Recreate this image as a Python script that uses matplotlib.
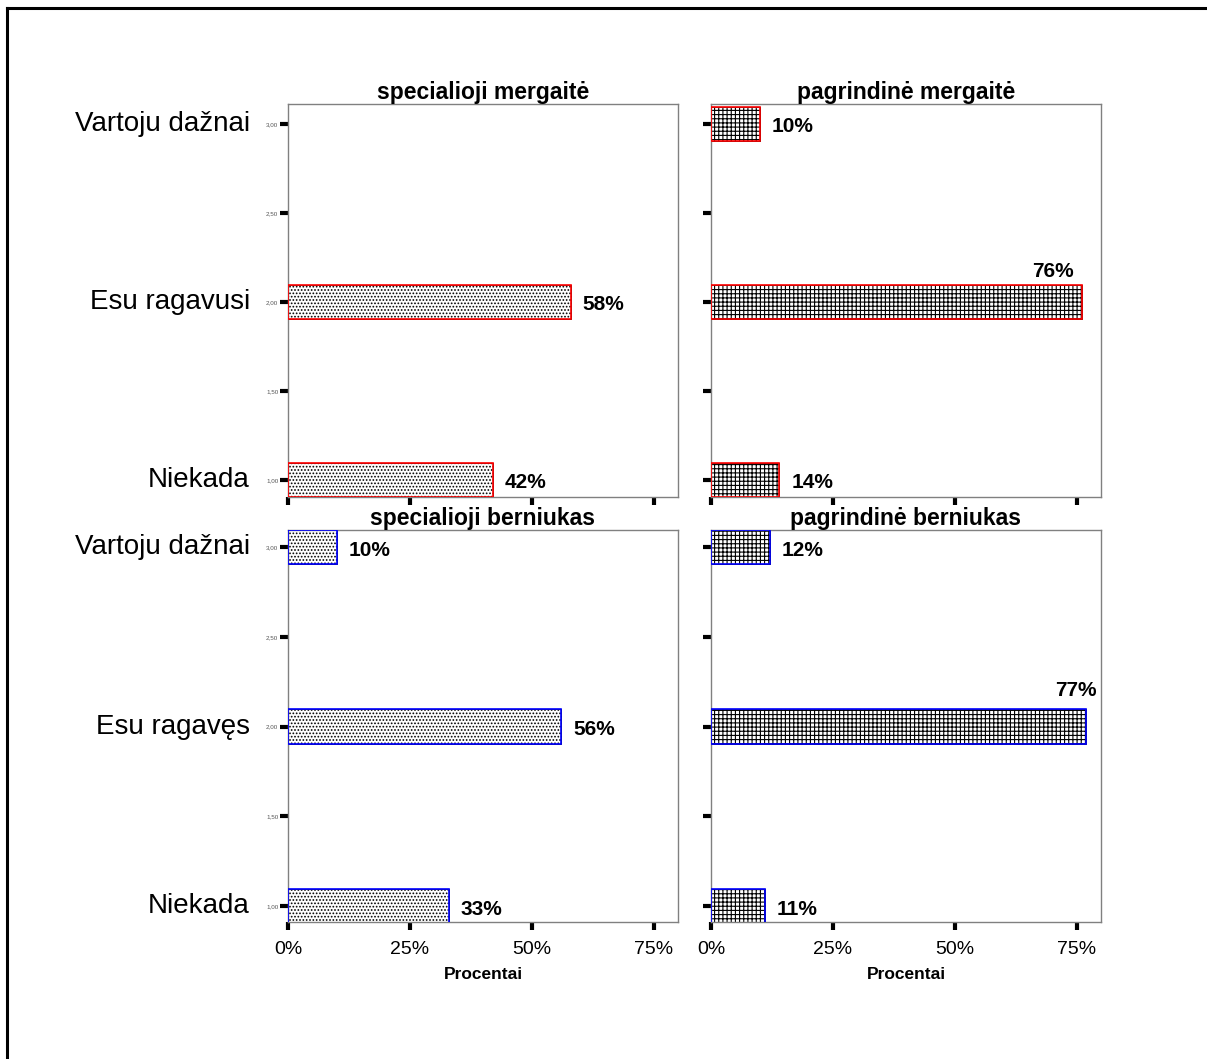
import matplotlib
matplotlib.use("Agg")
import matplotlib.pyplot as plt
from matplotlib.lines import Line2D

plt.rcParams['font.family'] = ['Liberation Sans', 'DejaVu Sans']
plt.rcParams['hatch.linewidth'] = 0.8

# ---- data ----
levels = [1.0, 2.0, 3.0]
girl_labels = ["Niekada", "Esu ragavusi", "Vartoju dažnai"]
boy_labels = ["Niekada", "Esu ragavęs", "Vartoju dažnai"]
spec_girl = [42, 58, 0]
pagr_girl = [14, 76, 10]
spec_boy = [33, 56, 10]
pagr_boy = [11, 77, 12]
titles = ["specialioji mergaitė", "pagrindinė mergaitė",
          "specialioji berniukas", "pagrindinė berniukas"]
ytick_vals = [1.0, 1.5, 2.0, 2.5, 3.0]
ytick_text = ["1,00", "1,50", "2,00", "2,50", "3,00"]
xtick_vals = [0, 25, 50, 75]
xtick_text = ["0%", "25%", "50%", "75%"]
xlabel = "Procentai"

W, H = 1207, 1059
fig = plt.figure(figsize=(W / 100, H / 100), dpi=100)

def frac(x0, y0, x1, y1):
    return [x0 / W, 1 - y1 / H, (x1 - x0) / W, (y1 - y0) / H]

panels = [
    dict(rect=frac(288, 104, 678, 497), vals=spec_girl, hatch='.....', edge='#ff0000',
         ylim=(0.904, 3.112), left=True, bottom=False, cats=girl_labels, title=titles[0],
         big=(-8, 30)),
    dict(rect=frac(711, 104, 1101, 497), vals=pagr_girl, hatch='++++', edge='#ff0000',
         ylim=(0.904, 3.112), left=False, bottom=False, cats=None, title=titles[1],
         big=(-8, 30)),
    dict(rect=frac(288, 530, 678, 922), vals=spec_boy, hatch='.....', edge='#0000ff',
         ylim=(0.911, 3.095), left=True, bottom=True, cats=boy_labels, title=titles[2],
         big=(10, 36)),
    dict(rect=frac(711, 530, 1101, 922), vals=pagr_boy, hatch='++++', edge='#0000ff',
         ylim=(0.911, 3.095), left=False, bottom=True, cats=None, title=titles[3],
         big=(10, 36)),
]

bar_h = 0.19

for p in panels:
    ax = fig.add_axes(p['rect'])
    ax.set_xlim(0, 80)
    ax.set_ylim(*p['ylim'])
    for s in ax.spines.values():
        s.set_color('#808080')
        s.set_linewidth(1.0)
    ys = [y for y, v in zip(levels, p['vals']) if v > 0]
    vs = [v for v in p['vals'] if v > 0]
    # hatched fill in black, then coloured outline on top
    ax.barh(ys, vs, height=bar_h, color='white', edgecolor='black',
            hatch=p['hatch'], linewidth=0.6, zorder=2)
    ax.barh(ys, vs, height=bar_h, fill=False, edgecolor=p['edge'],
            linewidth=1.2, zorder=3)
    for y, v in zip(ys, vs):
        if v >= 70:
            dx, dy = p['big']
            ax.annotate(f"{v}%", xy=(v, y), xytext=(dx, dy), textcoords='offset pixels',
                        ha='right', va='center', fontsize=15, fontweight='bold')
        else:
            ax.annotate(f"{v}%", xy=(v, y), xytext=(12, -3), textcoords='offset pixels',
                        ha='left', va='center', fontsize=15, fontweight='bold')
    ax.set_yticks(ytick_vals)
    ax.tick_params(axis='y', direction='out', length=6, width=3, color='black')
    if p['left']:
        ax.set_yticklabels(ytick_text, fontsize=4.5, color='#555555')
        ax.tick_params(axis='y', pad=1)
    else:
        ax.set_yticklabels([])
    ax.set_xticks(xtick_vals)
    ax.tick_params(axis='x', direction='out', length=6, width=3, color='black')
    if p['bottom']:
        ax.set_xticklabels(xtick_text, fontsize=14)
        ax.tick_params(axis='x', pad=8)
        ax.set_xlabel(xlabel, fontsize=12.5, fontweight='bold', labelpad=6)
    else:
        ax.set_xticklabels([])
    ax.set_title(p['title'], fontsize=16.5, fontweight='bold', pad=2)
    if p['cats']:
        for y, c in zip(levels, p['cats']):
            ax.annotate(c, xy=(0, y), xycoords=('axes fraction', 'data'),
                        xytext=(-38, 0), textcoords='offset pixels',
                        ha='right', va='center', fontsize=20)

# figure frame (left and top edges)
fig.add_artist(Line2D([7 / W, 7 / W], [0, 1 - 8 / H], color='black', linewidth=2.2))
fig.add_artist(Line2D([7 / W, 1], [1 - 8 / H, 1 - 8 / H], color='black', linewidth=2.2))

fig.savefig("out.png", dpi=100, facecolor='white')
